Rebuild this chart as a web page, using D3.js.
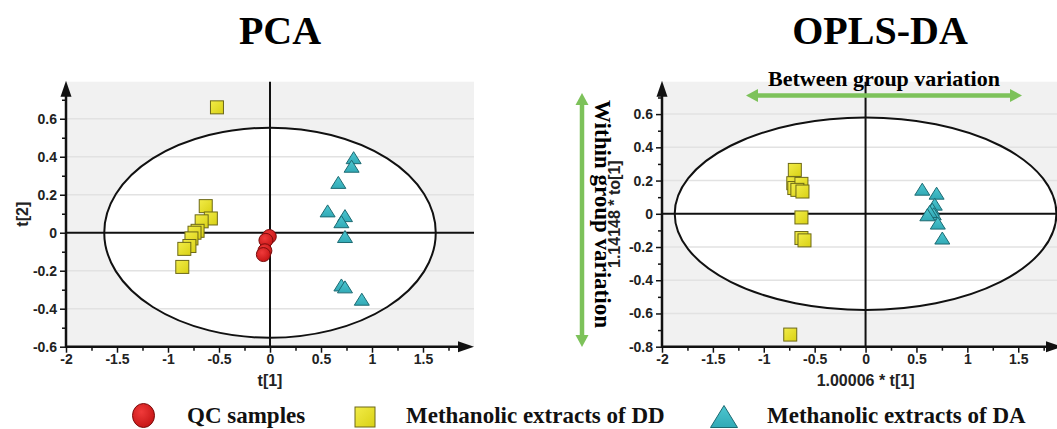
<!DOCTYPE html>
<html>
<head>
<meta charset="utf-8">
<script src="https://cdn.jsdelivr.net/npm/d3@7"></script>
<style>
  body { margin: 0; background: #fff; }
  svg { display: block; }
</style>
</head>
<body>
<div id="chart"></div>
<script>
// ---- data ----
// PCA score plot: [t1, t2]
const PCA_QC = [[-0.007, -0.02], [-0.04, -0.04], [-0.05, -0.095], [-0.065, -0.115]];
const PCA_DD = [[-0.52, 0.66], [-0.63, 0.14], [-0.58, 0.075], [-0.67, 0.06], [-0.71, 0.01],
                [-0.74, 0.0], [-0.77, -0.03], [-0.79, -0.07], [-0.84, -0.085], [-0.86, -0.18]];
const PCA_DA = [[0.82, 0.395], [0.80, 0.35], [0.67, 0.265], [0.565, 0.115], [0.735, 0.09],
                [0.70, 0.058], [0.735, -0.02], [0.70, -0.275], [0.735, -0.285], [0.90, -0.35]];

// OPLS-DA score plot: [1.00006*t1, 1.14148*to1]
const OPLS_DD = [[-0.695, 0.264], [-0.71, 0.184], [-0.70, 0.155], [-0.63, 0.18], [-0.67, 0.144],
                 [-0.62, 0.134], [-0.63, -0.022], [-0.63, -0.146], [-0.60, -0.16], [-0.74, -0.727]];
const OPLS_DA = [[0.557, 0.148], [0.698, 0.124], [0.68, 0.058], [0.655, 0.028], [0.67, 0.0],
                 [0.63, 0.014], [0.607, -0.006], [0.71, -0.056], [0.754, -0.146]];

const X_TICKS = [-2, -1.5, -1, -0.5, 0, 0.5, 1, 1.5];
const X_MINOR = [-1.75, -1.25, -0.75, -0.25, 0.25, 0.75, 1.25, 1.75];
const PCA_Y_TICKS = [-0.6, -0.4, -0.2, 0, 0.2, 0.4, 0.6];
const PCA_Y_MINOR = [-0.5, -0.3, -0.1, 0.1, 0.3, 0.5, 0.7];
const OPLS_Y_TICKS = [-0.8, -0.6, -0.4, -0.2, 0, 0.2, 0.4, 0.6];
const OPLS_Y_MINOR = [-0.7, -0.5, -0.3, -0.1, 0.1, 0.3, 0.5, 0.7];

// Hotelling ellipse semi-axes [x, y]
const PCA_ELLIPSE = [1.625, 0.553];
const OPLS_ELLIPSE = [1.875, 0.579];

const LEGEND_LABELS = ["QC samples", "Methanolic extracts of DD", "Methanolic extracts of DA"];

// ---- styles ----
const SVG_WIDTH = 1057;
const SVG_HEIGHT = 429;
const SANS = "'Liberation Sans', Arial, sans-serif";
const SERIF = "'Liberation Serif', 'Times New Roman', serif";
const GREEN = "#7dc25a";
const BG_GRAY = "#f1f1f1";
const GRID = "#e2e2e2";

const svg = d3.select("#chart").append("svg")
  .attr("width", SVG_WIDTH)
  .attr("height", SVG_HEIGHT);

const defs = svg.append("defs");
const redGrad = defs.append("radialGradient").attr("id", "redGrad")
  .attr("cx", "40%").attr("cy", "35%").attr("r", "70%");
redGrad.append("stop").attr("offset", "0%").attr("stop-color", "#f03a3a");
redGrad.append("stop").attr("offset", "100%").attr("stop-color", "#c41414");
const yelGrad = defs.append("linearGradient").attr("id", "yelGrad")
  .attr("x1", 0).attr("y1", 0).attr("x2", 1).attr("y2", 1);
yelGrad.append("stop").attr("offset", "0%").attr("stop-color", "#f2ec48");
yelGrad.append("stop").attr("offset", "100%").attr("stop-color", "#d9d115");
const cyanGrad = defs.append("linearGradient").attr("id", "cyanGrad")
  .attr("x1", 0).attr("y1", 0).attr("x2", 0).attr("y2", 1);
cyanGrad.append("stop").attr("offset", "0%").attr("stop-color", "#4cc6d0");
cyanGrad.append("stop").attr("offset", "100%").attr("stop-color", "#32aab6");

function fmt(d) {
  return d === 0 ? "0" : String(+d.toFixed(2));
}

function trianglePath(cx, cy, w, h) {
  return `M${cx},${cy - h / 2}L${cx - w / 2},${cy + h / 2}L${cx + w / 2},${cy + h / 2}Z`;
}

function initPlot(cfg) {
  const xScale = d3.scaleLinear().domain(cfg.xDomain).range(cfg.xRange);
  const yScale = d3.scaleLinear().domain(cfg.yDomain).range(cfg.yRange);
  const g = svg.append("g").attr("class", cfg.name + "-plot");
  const [x0, x1] = cfg.xRange;
  const [y0, y1] = cfg.yRange; // y0 bottom, y1 top

  // background
  g.append("rect")
    .attr("x", x0).attr("y", y1)
    .attr("width", Math.min(x1, SVG_WIDTH) - x0).attr("height", y0 - y1)
    .attr("fill", BG_GRAY);

  // ellipse fill
  const ex = xScale(0), ey = yScale(0);
  const rx = xScale(cfg.ellipse[0]) - xScale(0);
  const ry = yScale(0) - yScale(cfg.ellipse[1]);
  g.append("ellipse")
    .attr("cx", ex).attr("cy", ey).attr("rx", rx).attr("ry", ry)
    .attr("fill", "#fff");

  // grid
  g.append("g").selectAll("line")
    .data(cfg.yTicks.filter(d => d !== 0 && d !== cfg.yDomain[0]))
    .join("line")
    .attr("x1", x0).attr("x2", Math.min(x1, SVG_WIDTH))
    .attr("y1", d => yScale(d)).attr("y2", d => yScale(d))
    .attr("stroke", GRID).attr("stroke-width", 1.5);

  // ellipse outline
  g.append("ellipse")
    .attr("cx", ex).attr("cy", ey).attr("rx", rx).attr("ry", ry)
    .attr("fill", "none").attr("stroke", "#111").attr("stroke-width", 2);

  // zero lines
  g.append("line")
    .attr("x1", x0).attr("x2", Math.min(x1, SVG_WIDTH))
    .attr("y1", yScale(0)).attr("y2", yScale(0))
    .attr("stroke", "#111").attr("stroke-width", 2);
  g.append("line")
    .attr("x1", xScale(0)).attr("x2", xScale(0))
    .attr("y1", y1).attr("y2", y0)
    .attr("stroke", "#111").attr("stroke-width", 2);

  // axes
  const xAxis = g.append("g").attr("transform", `translate(0,${y0})`)
    .call(d3.axisBottom(xScale).tickValues(X_TICKS).tickFormat(fmt).tickSize(6).tickSizeOuter(0));
  g.append("g").attr("transform", `translate(0,${y0})`)
    .call(d3.axisBottom(xScale).tickValues(X_MINOR).tickFormat("").tickSize(4).tickSizeOuter(0))
    .select(".domain").remove();
  const yAxis = g.append("g").attr("transform", `translate(${x0},0)`)
    .call(d3.axisLeft(yScale).tickValues(cfg.yTicks).tickFormat(fmt).tickSize(6).tickSizeOuter(0));
  g.append("g").attr("transform", `translate(${x0},0)`)
    .call(d3.axisLeft(yScale).tickValues(cfg.yMinor).tickFormat("").tickSize(4).tickSizeOuter(0))
    .select(".domain").remove();
  g.selectAll(".domain").remove();
  g.selectAll(".tick line").attr("stroke", "#111").attr("stroke-width", 1.5);
  xAxis.selectAll("text")
    .attr("dy", "0.6em")
    .style("font-family", SANS).style("font-weight", "bold").style("font-size", "14px").attr("fill", "#222");
  yAxis.selectAll("text")
    .attr("x", -9)
    .style("font-family", SANS).style("font-weight", "bold").style("font-size", "14px").attr("fill", "#222");

  // axis lines with arrow heads
  g.append("line")
    .attr("x1", x0).attr("x2", x1 - 10)
    .attr("y1", y0).attr("y2", y0)
    .attr("stroke", "#111").attr("stroke-width", 2.5);
  g.append("path")
    .attr("d", `M${x1},${y0}L${x1 - 16},${y0 - 5.5}L${x1 - 16},${y0 + 5.5}Z`)
    .attr("fill", "#111");
  g.append("line")
    .attr("x1", x0).attr("x2", x0)
    .attr("y1", y0 + 1).attr("y2", y1 + 8)
    .attr("stroke", "#111").attr("stroke-width", 2.5);
  g.append("path")
    .attr("d", `M${x0},${y1 - 1}L${x0 - 5.5},${y1 + 15}L${x0 + 5.5},${y1 + 15}Z`)
    .attr("fill", "#111");

  // axis titles
  g.append("text")
    .attr("x", xScale(0)).attr("y", cfg.xLabelY)
    .attr("text-anchor", "middle")
    .style("font-family", SANS).style("font-weight", "bold").style("font-size", "16px")
    .attr("fill", "#222")
    .text(cfg.xLabel);
  g.append("text")
    .attr("transform", `translate(${cfg.yLabelX},${(y0 + y1) / 2}) rotate(-90)`)
    .attr("text-anchor", "middle")
    .style("font-family", SANS).style("font-weight", "bold").style("font-size", "16px")
    .attr("fill", "#222")
    .text(cfg.yLabel);

  // chart title
  g.append("text")
    .attr("x", cfg.titleX).attr("y", 44)
    .attr("text-anchor", "middle")
    .style("font-family", SERIF).style("font-weight", "bold").style("font-size", "40px")
    .attr("fill", "#000")
    .text(cfg.title);

  return [g, xScale, yScale];
}

function drawPoints(g, xScale, yScale, qc, dd, da) {
  g.append("g").selectAll("rect")
    .data(dd).join("rect")
    .attr("x", d => xScale(d[0]) - 6.5).attr("y", d => yScale(d[1]) - 6.5)
    .attr("width", 13).attr("height", 13)
    .attr("fill", "url(#yelGrad)").attr("stroke", "#6c6818").attr("stroke-width", 1);
  g.append("g").selectAll("path")
    .data(da).join("path")
    .attr("d", d => trianglePath(xScale(d[0]), yScale(d[1]), 15, 12))
    .attr("fill", "url(#cyanGrad)").attr("stroke", "#1d6a72").attr("stroke-width", 1);
  g.append("g").selectAll("circle")
    .data(qc).join("circle")
    .attr("cx", d => xScale(d[0])).attr("cy", d => yScale(d[1]))
    .attr("r", 7)
    .attr("fill", "url(#redGrad)").attr("stroke", "#7a0c0c").attr("stroke-width", 1);
}

// ---- PCA ----
const [pcaG, pcaX, pcaY] = initPlot({
  name: "pca", title: "PCA", titleX: 280,
  xDomain: [-2, 2], xRange: [66, 474],
  yDomain: [-0.6, 0.795], yRange: [346.7, 81.7],
  yTicks: PCA_Y_TICKS, yMinor: PCA_Y_MINOR,
  ellipse: PCA_ELLIPSE,
  xLabel: "t[1]", xLabelY: 386, yLabel: "t[2]", yLabelX: 28
});
drawPoints(pcaG, pcaX, pcaY, PCA_QC, PCA_DD, PCA_DA);

// ---- OPLS-DA ----
const [oplsG, oplsX, oplsY] = initPlot({
  name: "opls", title: "OPLS-DA", titleX: 880,
  xDomain: [-2, 1.93], xRange: [662, 1062],
  yDomain: [-0.8, 0.795], yRange: [346.7, 81.7],
  yTicks: OPLS_Y_TICKS, yMinor: OPLS_Y_MINOR,
  ellipse: OPLS_ELLIPSE,
  xLabel: "1.00006 * t[1]", xLabelY: 386, yLabel: "1.14148 * to[1]", yLabelX: 620
});
drawPoints(oplsG, oplsX, oplsY, [], OPLS_DD, OPLS_DA);

// ---- variation annotations ----
function doubleArrow(x1, y1, x2, y2) {
  const horiz = y1 === y2;
  const head = 12, half = 6.5;
  const a = svg.append("g");
  if (horiz) {
    a.append("line").attr("x1", x1 + head - 2).attr("x2", x2 - head + 2).attr("y1", y1).attr("y2", y2)
      .attr("stroke", GREEN).attr("stroke-width", 4.5);
    a.append("path").attr("d", `M${x1},${y1}L${x1 + head},${y1 - half}L${x1 + head},${y1 + half}Z`).attr("fill", GREEN);
    a.append("path").attr("d", `M${x2},${y2}L${x2 - head},${y2 - half}L${x2 - head},${y2 + half}Z`).attr("fill", GREEN);
  } else {
    a.append("line").attr("x1", x1).attr("x2", x2).attr("y1", y1 + head - 2).attr("y2", y2 - head + 2)
      .attr("stroke", GREEN).attr("stroke-width", 4.5);
    a.append("path").attr("d", `M${x1},${y1}L${x1 - half},${y1 + head}L${x1 + half},${y1 + head}Z`).attr("fill", GREEN);
    a.append("path").attr("d", `M${x2},${y2}L${x2 - half},${y2 - head}L${x2 + half},${y2 - head}Z`).attr("fill", GREEN);
  }
}
doubleArrow(746, 95.5, 1022, 95.5);
doubleArrow(582, 93, 582, 347);

svg.append("text")
  .attr("x", 884).attr("y", 86)
  .attr("text-anchor", "middle")
  .style("font-family", SERIF).style("font-weight", "bold").style("font-size", "22px")
  .attr("fill", "#000")
  .text("Between group variation");
svg.append("text")
  .attr("transform", "translate(595,214) rotate(90)")
  .attr("text-anchor", "middle")
  .style("font-family", SERIF).style("font-weight", "bold").style("font-size", "23px")
  .attr("fill", "#000")
  .text("Within group variation");

// ---- legend ----
const legend = svg.append("g").attr("class", "legend");
legend.append("ellipse")
  .attr("cx", 143.5).attr("cy", 415.5).attr("rx", 11).attr("ry", 12)
  .attr("fill", "url(#redGrad)").attr("stroke", "#7a0c0c").attr("stroke-width", 1);
legend.append("rect")
  .attr("x", 355).attr("y", 407).attr("width", 20).attr("height", 20)
  .attr("fill", "url(#yelGrad)").attr("stroke", "#6c6818").attr("stroke-width", 1);
legend.append("path")
  .attr("d", trianglePath(724, 416.5, 27, 22))
  .attr("fill", "url(#cyanGrad)").attr("stroke", "#1d6a72").attr("stroke-width", 1);
legend.selectAll("text.lbl")
  .data(LEGEND_LABELS).join("text")
  .attr("class", "lbl")
  .attr("x", (d, i) => [187, 406, 767][i]).attr("y", 423)
  .style("font-family", SERIF).style("font-weight", "bold").style("font-size", "23px")
  .attr("fill", "#111")
  .text(d => d);
</script>
</body>
</html>
